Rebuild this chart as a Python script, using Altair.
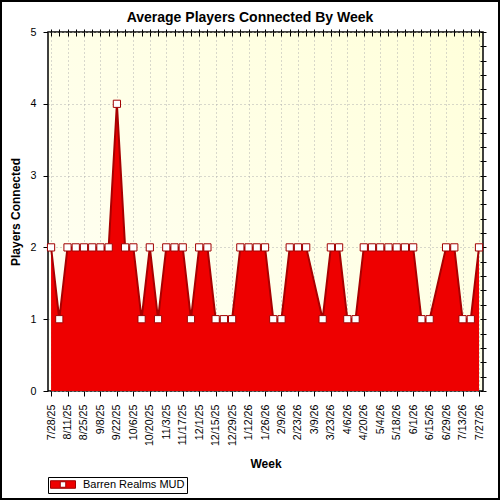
import altair as alt
import pandas as pd

TITLE = "Average Players Connected By Week"
SERIES = "Barren Realms MUD"
X_TITLE = "Week"
Y_TITLE = "Players Connected"

first_week = "2025-07-28"
# average players per week (None = no data that week)
players = [2, 1, 2, 2, 2, 2, 2, 2, 4, 2,
           2, 1, 2, 1, 2, 2, 2, 1, 2, 2,
           1, 1, 1, 2, 2, 2, 2, 1, 1, 2,
           2, 2, None, 1, 2, 2, 1, 1, 2, 2,
           2, 2, 2, 2, 2, 1, 1, None, 2, 2,
           1, 1, 2]
y_major = [0, 1, 2, 3, 4, 5]
y_minor = [0, 0.2, 0.4, 0.6, 0.8, 1, 1.2, 1.4, 1.6, 1.8, 2, 2.2, 2.4, 2.6, 2.8,
           3, 3.2, 3.4, 3.6, 3.8, 4, 4.2, 4.4, 4.6, 4.8, 5]

weeks = pd.date_range(first_week, periods=len(players), freq="7D", tz="UTC")
week_iso = [d.strftime("%Y-%m-%dT00:00:00Z") for d in weeks]
week_ms = [int(d.timestamp() * 1000) for d in weeks]
label_ms = week_ms[::2]

df = pd.DataFrame({"week": week_iso, "players": players, "series": SERIES})

DAY = 86400000
W, H = 435, 359
PAD = {"left": 48, "top": 32, "right": 17, "bottom": 109}
FONT = "Liberation Sans"

x_scale = alt.Scale(type="utc", domain=[week_ms[0] - 2.6 * DAY, week_ms[-1] + 3.4 * DAY])
y_scale = alt.Scale(domain=[0, 5], nice=False, zero=True)

common_axis = dict(domain=False, tickColor="#000", tickWidth=1,
                   labelFont=FONT, labelColor="#000", titleFont=FONT,
                   titleColor="#000", titleFontWeight="bold")

x_main = alt.Axis(values=label_ms, format="%-m/%-d/%y", labelAngle=270,
                  labelFontSize=10.7, tickSize=5, labelPadding=8,
                  grid=True, gridDash=[1, 3], gridColor="#b0b0b0",
                  title=X_TITLE, titleFontSize=12, titlePadding=13,
                  labelOverlap=False, **common_axis)
y_main = alt.Axis(values=y_major, labelFontSize=10.7, tickSize=5, labelPadding=7,
                  grid=True, gridDash=[1, 3], gridColor="#b0b0b0",
                  title=Y_TITLE, titleFontSize=12, titlePadding=8, **common_axis)
x_minor = alt.Axis(values=week_ms, labels=False, tickSize=3, grid=False, title=None,
                   domain=False, tickColor="#000")
y_minor_ax = alt.Axis(values=y_minor, labels=False, tickSize=3, grid=False, title=None,
                      domain=False, tickColor="#000")
x_top = alt.Axis(orient="top", values=week_ms, labels=False, tickSize=4, offset=-4,
                 grid=False, title=None, domain=False, tickColor="#000")
y_right = alt.Axis(orient="right", values=y_minor, labels=False, tickSize=3, offset=-3,
                   grid=False, title=None, domain=False, tickColor="#000")

base = alt.Chart(df).transform_filter("isValid(datum.players)")

legend_path = "M-2.5,-0.75H2.5V0.75H-2.5Z M-0.55,-0.55V0.55H0.55V-0.55Z"

area = base.mark_area(opacity=1).encode(
    x=alt.X("week:T", scale=x_scale, axis=x_main),
    y=alt.Y("players:Q", scale=y_scale, axis=y_main),
    color=alt.Color("series:N", scale=alt.Scale(range=["#EE0000"]),
                    legend=alt.Legend(orient="none", legendX=0, legendY=445,
                                      title=None, symbolType=legend_path,
                                      symbolSize=100, symbolStrokeColor="#A00000",
                                      symbolStrokeWidth=1, symbolOffset=7.5,
                                      labelOffset=14.5, labelFont=FONT,
                                      labelFontSize=11, labelColor="#000",
                                      strokeColor="#000", padding=2)),
)

line = base.mark_line(color="#A80000", strokeWidth=2).encode(
    x=alt.X("week:T", scale=x_scale, axis=x_minor),
    y=alt.Y("players:Q", scale=y_scale, axis=y_minor_ax),
)

points = base.mark_point(shape="square", filled=True, fill="#FFFFFF",
                         stroke="#A00000", strokeWidth=1, size=52, opacity=1).encode(
    x=alt.X("week:T", scale=x_scale, axis=x_top),
    y=alt.Y("players:Q", scale=y_scale, axis=y_right),
)

frame = alt.Chart(alt.Data(values=[{}])).mark_rect(
    fillOpacity=0, stroke="#000", strokeWidth=2, clip=False).encode(
    x=alt.value(-PAD["left"] + 1), x2=alt.value(W + PAD["right"] - 1),
    y=alt.value(-PAD["top"] + 1), y2=alt.value(H + PAD["bottom"] - 1),
)

bg_expr = ("{gradient: 'linear', x1: 0, y1: 1, x2: 1, y2: 0, "
           "stops: [{offset: 0, color: '#FFFFF6'}, {offset: 1, color: '#FFFFDA'}]}")

chart = alt.layer(area, line, points, frame).resolve_axis(
    x="independent", y="independent"
).properties(
    width=W, height=H,
    autosize=alt.AutoSizeParams(type="none"),
    padding=PAD,
    background="#FFFFFF",
    title=alt.TitleParams(TITLE, font=FONT, fontSize=14, fontWeight="bold",
                          color="#000", anchor="middle", frame="group",
                          baseline="alphabetic", offset=-35.5, dx=-15.5),
).configure_view(
    stroke="#000", strokeWidth=1.5,
    fill={"expr": bg_expr},
)

chart.save("out.html", embed_options={"renderer": "svg", "actions": False})
